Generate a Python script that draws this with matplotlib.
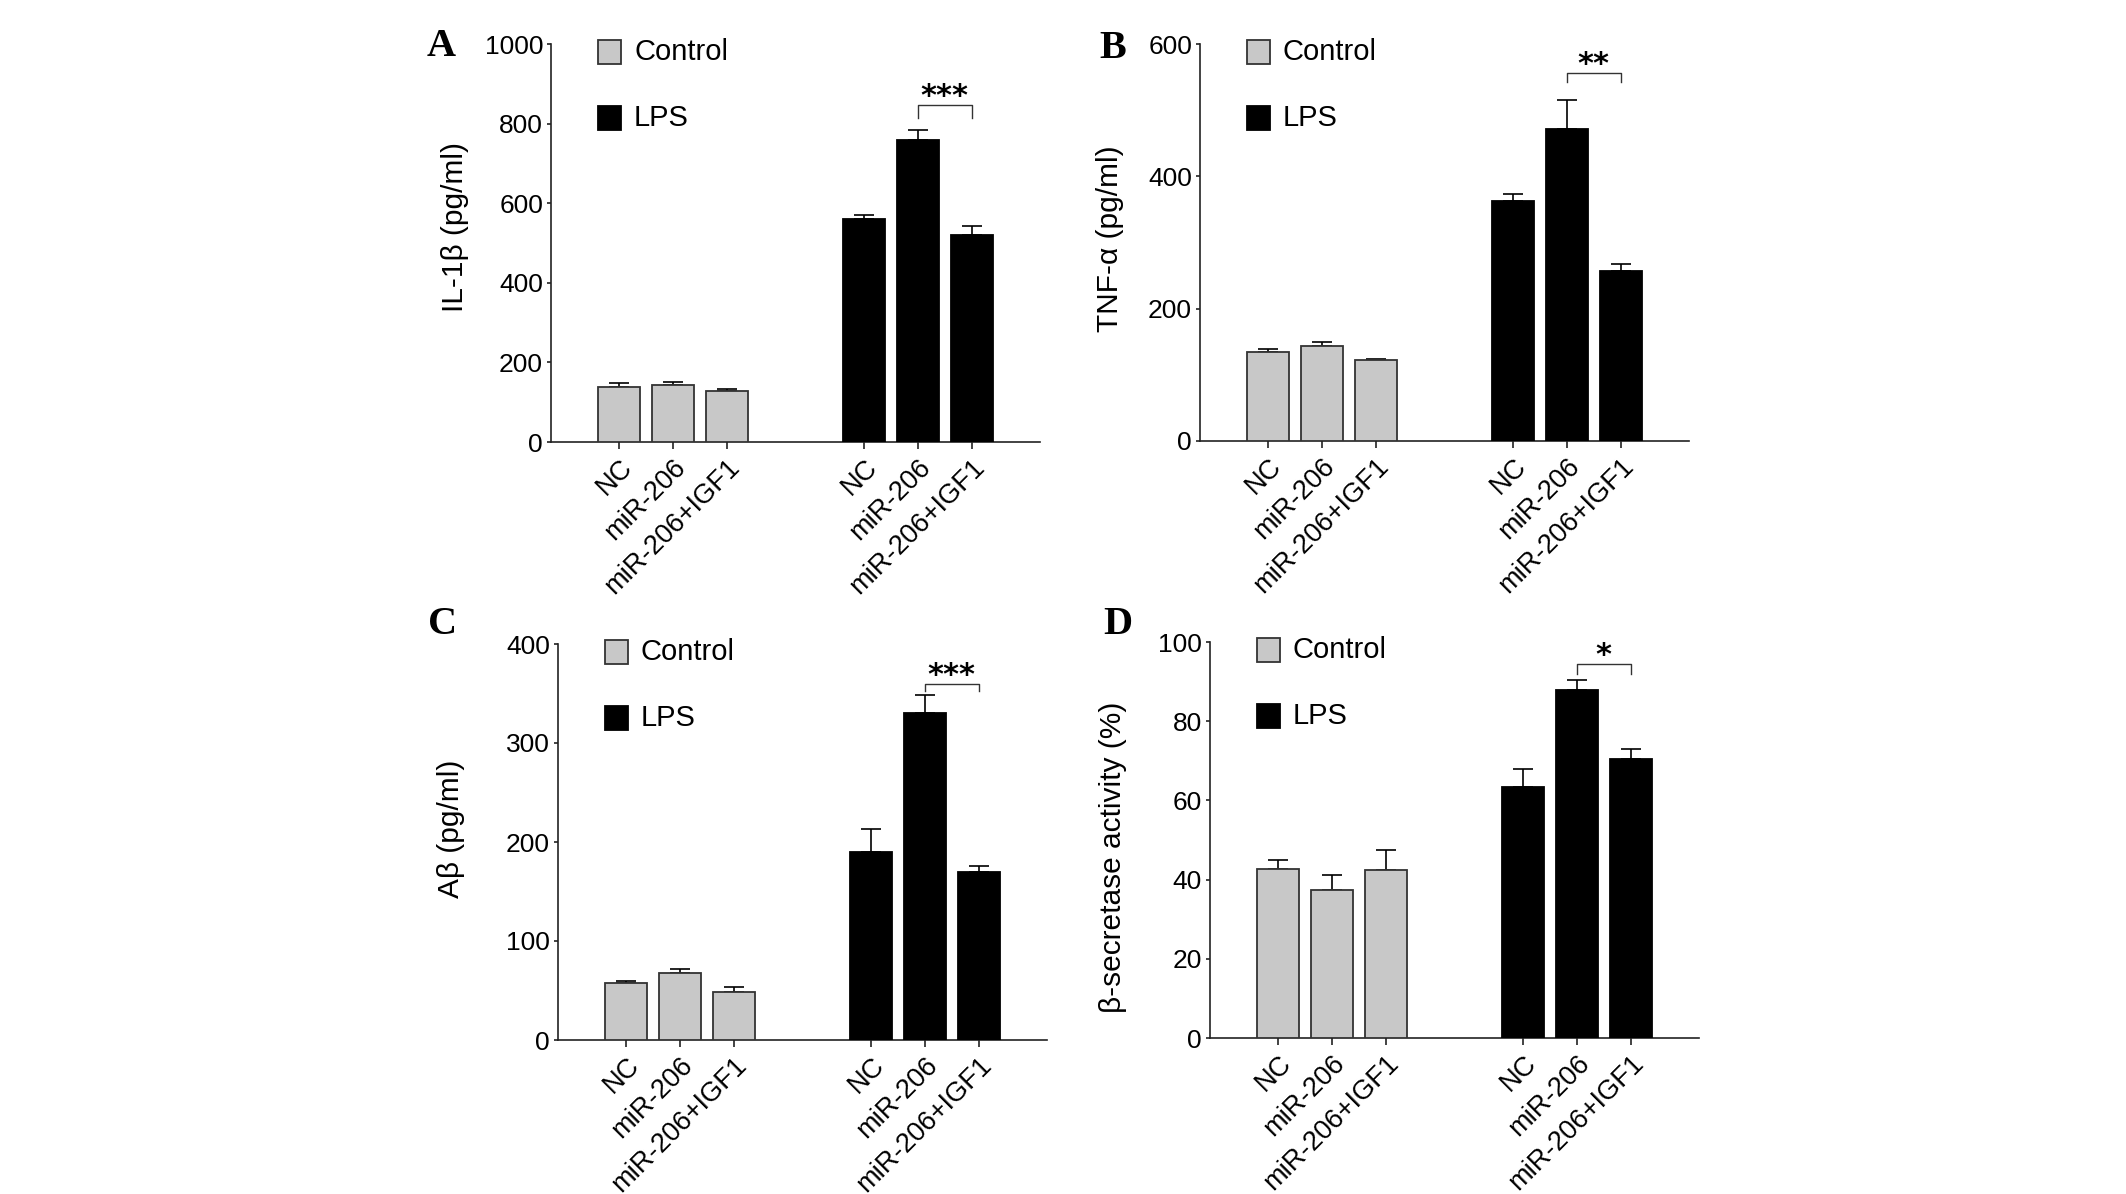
import matplotlib
matplotlib.use("Agg")
import matplotlib.pyplot as plt
import matplotlib.transforms as mtransforms
import numpy as np
from matplotlib.patches import Rectangle

plt.rcParams['font.family'] = ['Liberation Sans', 'DejaVu Sans']

# treatment groups (same for control and LPS)
groups = ['NC', 'miR-206', 'miR-206+IGF1']

# A - IL-1b
il1b_ctrl = [139, 144, 129]
il1b_ctrl_err = [10, 8, 4]
il1b_lps = [561, 760, 521]
il1b_lps_err = [10, 24, 21]

# B - TNF-a
tnf_ctrl = [134, 143.5, 122]
tnf_ctrl_err = [5, 6.5, 2]
tnf_lps = [363, 472, 257]
tnf_lps_err = [10, 43, 11]

# C - Abeta
ab_ctrl = [57.7, 67.2, 48.9]
ab_ctrl_err = [1.5, 4.2, 5]
ab_lps = [190, 330, 170]
ab_lps_err = [23, 18, 5.7]

# D - beta-secretase
bs_ctrl = [42.8, 37.3, 42.4]
bs_ctrl_err = [2.2, 3.9, 5.2]
bs_lps = [63.4, 88.0, 70.4]
bs_lps_err = [4.6, 2.5, 2.5]

W, H = 2126, 1194
fig = plt.figure(figsize=(W / 100, H / 100), dpi=100)
fig.patch.set_facecolor('white')

GRAY = '#c8c8c8'
EDGE = '#333333'
pos_ctrl = np.array([0, 1, 2])
pos_lps = np.array([4.55, 5.55, 6.55])


def panel(rect, letter, letter_xy, ylabel, label_xy, ymax, ystep,
          ctrl, ctrl_err, lps, lps_err, bracket, stars):
    left, top, bottom = rect
    h = bottom - top
    ax = fig.add_axes([left / W, 1 - bottom / H, 489 / W, h / H])

    ax.bar(pos_ctrl, ctrl, width=0.78, color=GRAY, edgecolor=EDGE, linewidth=1.3, zorder=3)
    ax.bar(pos_lps, lps, width=0.78, color='black', edgecolor='black', linewidth=1.3, zorder=3)
    ax.errorbar(pos_ctrl, ctrl, yerr=[np.zeros(3), ctrl_err], fmt='none', ecolor='black',
                elinewidth=1.2, capsize=7, capthick=1.2, zorder=2)
    ax.errorbar(pos_lps, lps, yerr=[np.zeros(3), lps_err], fmt='none', ecolor='black',
                elinewidth=1.2, capsize=7, capthick=1.2, zorder=2)

    ax.set_xlim(-1.27, 7.82)
    ax.set_ylim(0, ymax)
    ax.set_yticks(np.arange(0, ymax + 1, ystep))
    ax.set_xticks(np.concatenate([pos_ctrl, pos_lps]))
    ax.set_xticklabels(groups + groups)
    shift = mtransforms.ScaledTranslation(4 / 100, 2 / 100, fig.dpi_scale_trans)
    for lab in ax.get_xticklabels():
        lab.set_rotation(45)
        lab.set_ha('right')
        lab.set_va('top')
        lab.set_rotation_mode('anchor')
        lab.set_transform(lab.get_transform() + shift)

    for s in ['top', 'right']:
        ax.spines[s].set_visible(False)
    for s in ['left', 'bottom']:
        ax.spines[s].set_linewidth(1.2)
        ax.spines[s].set_color('#222222')
    ax.tick_params(axis='x', length=4.7, width=1.2, pad=4, labelsize=19.5, color='#222222')
    ax.tick_params(axis='y', length=3.2, width=1.2, pad=2.5, labelsize=19, color='#222222')

    ax.set_ylabel(ylabel, fontsize=21.5, va='center')
    ax.yaxis.set_label_coords(*label_xy)

    # legend squares, centres 8 px and 74 px below the top of the axes
    for lab, col, ec, dy in [('Control', GRAY, EDGE, 8), ('LPS', 'black', 'black', 74)]:
        yc = 1 - dy / h
        ax.add_patch(Rectangle((47 / 489, yc - 12 / h), 23 / 489, 24 / h,
                               transform=ax.transAxes, facecolor=col,
                               edgecolor=ec, linewidth=1.3, clip_on=False))
        ax.text(83 / 489, yc, lab, transform=ax.transAxes,
                fontsize=21, ha='left', va='center')

    # significance bracket between miR-206 and miR-206+IGF1 (LPS)
    btop, bleg = bracket
    x1, x2 = pos_lps[1], pos_lps[2]
    ax.plot([x1, x1, x2, x2], [bleg, btop, btop, bleg], color=EDGE, lw=1.0, clip_on=False)
    ax.annotate(stars, xy=((x1 + x2) / 2, btop), xytext=(0, 0), textcoords='offset points',
                ha='center', va='baseline', fontsize=22, fontweight='bold', family='DejaVu Sans')

    fig.text(letter_xy[0] / W, 1 - letter_xy[1] / H, letter, fontfamily='Liberation Serif',
             fontweight='bold', fontsize=29, ha='center', va='center')
    return ax


panel((551, 44, 442), 'A', (441, 47), 'IL-1\u03b2 (pg/ml)', (-0.196, 0.54), 1000, 200,
      il1b_ctrl, il1b_ctrl_err, il1b_lps, il1b_lps_err, (846, 814), '***')
panel((1200, 44, 441), 'B', (1113, 48), 'TNF-\u03b1 (pg/ml)', (-0.184, 0.51), 600, 200,
      tnf_ctrl, tnf_ctrl_err, tnf_lps, tnf_lps_err, (556, 543), '**')
panel((558, 644, 1040), 'C', (443, 624), 'A\u03b2 (pg/ml)', (-0.219, 0.533), 400, 100,
      ab_ctrl, ab_ctrl_err, ab_lps, ab_lps_err, (360, 353), '***')
panel((1210, 642, 1038), 'D', (1118, 625), '\u03b2-secretase activity (%)', (-0.199, 0.456), 100, 20,
      bs_ctrl, bs_ctrl_err, bs_lps, bs_lps_err, (94.5, 91.9), '*')

fig.savefig('out.png', dpi=100, facecolor='white')
